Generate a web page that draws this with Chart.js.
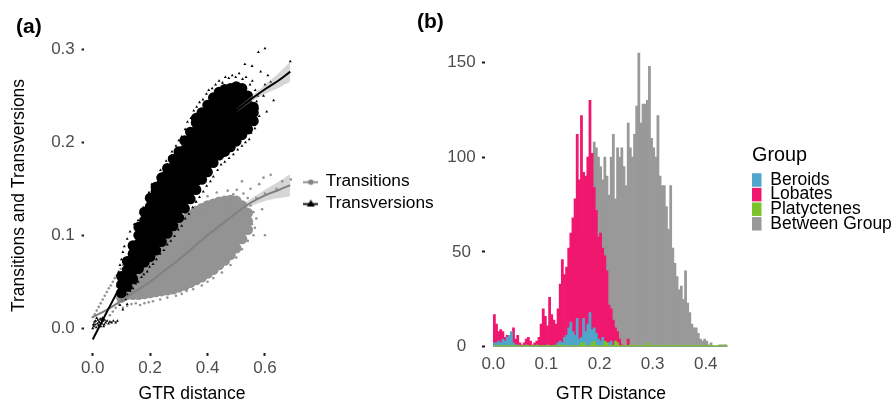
<!DOCTYPE html>
<html><head><meta charset="utf-8">
<script src="https://cdn.jsdelivr.net/npm/chart.js@4.4.1/dist/chart.umd.min.js"></script>
<style>
html,body{margin:0;padding:0;background:#fff;}
#wrap{position:relative;width:896px;height:406px;overflow:hidden;background:#fff;}
#ca{position:absolute;left:0;top:0;width:440px;height:406px;}
#cb{position:absolute;left:410px;top:0;width:486px;height:406px;}
</style></head><body>
<div id="wrap"><canvas id="ca" width="440" height="406"></canvas><canvas id="cb" width="486" height="406"></canvas></div>
<script>
// ---------- panel labels, series names, ticks ----------
const panelLabels = ['(a)', '(b)'];
const seriesA = ['Transitions', 'Transversions'];
const groupsB = ['Beroids', 'Lobates', 'Platyctenes', 'Between Group'];
const xTicksA = [0, 0.2, 0.4, 0.6];
const yTicksA = [0, 0.1, 0.2, 0.3];
const xTicksB = [0, 0.1, 0.2, 0.3, 0.4];
const yTicksB = [0, 50, 100, 150];

// ---------- panel (a): dense core of the clouds, by GTR column [x, [y...]] ----------
const transversionsDense = [
 [0.10,[0.038,0.047,0.056]],
 [0.12,[0.045,0.054,0.063,0.072]],
 [0.14,[0.053,0.062,0.071,0.080,0.089]],
 [0.16,[0.064,0.073,0.082,0.091,0.100,0.109]],
 [0.18,[0.071,0.080,0.089,0.098,0.107,0.116,0.125]],
 [0.20,[0.077,0.086,0.095,0.104,0.113,0.122,0.131,0.140]],
 [0.22,[0.084,0.093,0.102,0.111,0.120,0.129,0.138,0.147,0.152]],
 [0.24,[0.093,0.102,0.111,0.120,0.129,0.138,0.147,0.156,0.162]],
 [0.26,[0.102,0.111,0.120,0.129,0.138,0.147,0.156,0.165,0.172]],
 [0.28,[0.110,0.119,0.128,0.137,0.146,0.155,0.164,0.173,0.182]],
 [0.30,[0.119,0.128,0.137,0.146,0.155,0.164,0.173,0.182,0.190]],
 [0.32,[0.129,0.138,0.147,0.156,0.165,0.174,0.183,0.192,0.202]],
 [0.34,[0.139,0.148,0.157,0.166,0.175,0.184,0.193,0.202,0.211]],
 [0.36,[0.149,0.158,0.167,0.176,0.185,0.194,0.203,0.212,0.221,0.226]],
 [0.38,[0.160,0.169,0.178,0.187,0.196,0.205,0.214,0.223,0.232]],
 [0.40,[0.168,0.177,0.186,0.195,0.204,0.213,0.222,0.231,0.240]],
 [0.42,[0.178,0.187,0.196,0.205,0.214,0.223,0.232,0.241,0.248]],
 [0.44,[0.186,0.195,0.204,0.213,0.222,0.231,0.240,0.249,0.254]],
 [0.46,[0.190,0.199,0.208,0.217,0.226,0.235,0.244,0.253,0.257]],
 [0.48,[0.195,0.204,0.213,0.222,0.231,0.240,0.249,0.258]],
 [0.50,[0.201,0.210,0.219,0.228,0.237,0.246,0.255,0.260]],
 [0.52,[0.208,0.217,0.226,0.235,0.244,0.253,0.258]],
 [0.54,[0.214,0.223,0.232,0.241,0.250]],
 [0.56,[0.223,0.232,0.238]]
];
const transitionsDense = [
 [0.10,[0.033,0.038]],
 [0.12,[0.036,0.044]],
 [0.14,[0.036,0.045,0.052]],
 [0.16,[0.036,0.045,0.054,0.060]],
 [0.18,[0.037,0.046,0.055,0.064,0.069]],
 [0.20,[0.038,0.047,0.056,0.065,0.074,0.077]],
 [0.22,[0.039,0.048,0.057,0.066,0.075,0.084]],
 [0.24,[0.040,0.049,0.058,0.067,0.076,0.085,0.091]],
 [0.26,[0.041,0.050,0.059,0.068,0.077,0.086,0.095,0.098]],
 [0.28,[0.042,0.051,0.060,0.069,0.078,0.087,0.096,0.104]],
 [0.30,[0.044,0.053,0.062,0.071,0.080,0.089,0.098,0.107,0.111]],
 [0.32,[0.046,0.055,0.064,0.073,0.082,0.091,0.100,0.109,0.117]],
 [0.34,[0.049,0.058,0.067,0.076,0.085,0.094,0.103,0.112,0.121,0.122]],
 [0.36,[0.052,0.061,0.070,0.079,0.088,0.097,0.106,0.115,0.124,0.126]],
 [0.38,[0.055,0.064,0.073,0.082,0.091,0.100,0.109,0.118,0.127,0.129]],
 [0.40,[0.059,0.068,0.077,0.086,0.095,0.104,0.113,0.122,0.131,0.132]],
 [0.42,[0.063,0.072,0.081,0.090,0.099,0.108,0.117,0.126,0.134]],
 [0.44,[0.068,0.077,0.086,0.095,0.104,0.113,0.122,0.131,0.136]],
 [0.46,[0.073,0.082,0.091,0.100,0.109,0.118,0.127,0.137]],
 [0.48,[0.079,0.088,0.097,0.106,0.115,0.124,0.133,0.138]],
 [0.50,[0.086,0.095,0.104,0.113,0.122,0.131,0.137]],
 [0.52,[0.096,0.105,0.114,0.123,0.132]],
 [0.54,[0.106,0.115,0.124]]
];
// ---------- panel (a): scattered points around the clouds [x, y] ----------
const transversionsSparse = [
 [0.158,0.116],[0.166,0.124],[0.176,0.13],[0.186,0.14],[0.196,0.146],[0.206,0.155],[0.214,0.152],[0.226,0.163],
 [0.236,0.17],[0.246,0.168],[0.256,0.18],[0.266,0.184],[0.276,0.19],[0.29,0.196],[0.3,0.202],[0.31,0.206],
 [0.322,0.214],[0.33,0.222],[0.342,0.226],[0.352,0.234],[0.362,0.238],[0.372,0.243],[0.384,0.246],[0.396,0.252],
 [0.404,0.256],[0.416,0.258],[0.428,0.262],[0.44,0.266],[0.452,0.264],[0.462,0.27],[0.474,0.269],[0.486,0.272],
 [0.498,0.27],[0.51,0.274],[0.522,0.268],[0.534,0.27],[0.548,0.262],[0.556,0.266],[0.566,0.256],[0.575,0.25],
 [0.577,0.297],[0.6,0.301],[0.688,0.287],[0.53,0.284],[0.555,0.282],[0.585,0.276],[0.61,0.272],[0.6,0.262],[0.62,0.265],
 [0.571,0.244],[0.606,0.233],[0.58,0.228],[0.565,0.215],[0.595,0.25],[0.63,0.245],[0.575,0.236],[0.568,0.225],
 [0.552,0.21],[0.545,0.203],[0.532,0.2],[0.52,0.196],[0.505,0.192],[0.49,0.187],[0.475,0.183],[0.46,0.179],
 [0.447,0.176],[0.435,0.17],[0.42,0.163],[0.41,0.158],[0.397,0.153],[0.385,0.147],[0.372,0.141],[0.36,0.136],
 [0.348,0.13],[0.335,0.123],[0.322,0.118],[0.31,0.11],[0.298,0.106],[0.285,0.099],[0.272,0.094],[0.26,0.09],
 [0.248,0.084],[0.235,0.08],[0.222,0.074],[0.21,0.069],[0.198,0.066],[0.19,0.061],[0.178,0.058],[0.17,0.055],
 [0.158,0.05],[0.15,0.048],[0.14,0.043],[0.13,0.04],[0.122,0.036],[0.115,0.031],
 [0.09,0.06],[0.095,0.068],[0.1,0.074],[0.105,0.082],[0.11,0.088],[0.12,0.096],[0.13,0.104],[0.145,0.112],
 [0.092,0.052],[0.088,0.047],
 [0.095,0.025],[0.1,0.03],[0.105,0.02],[0.11,0.036],[0.12,0.026],[0.125,0.045],[0.09,0.035],[0.085,0.045],[0.1,0.045],
 [0.0,0.0],[0.004,0.002],[0.008,0.004],[0.012,0.001],[0.016,0.005],[0.02,0.003],[0.024,0.006],[0.028,0.002],
 [0.032,0.005],[0.036,0.008],[0.04,0.004],[0.045,0.006],[0.05,0.008],[0.055,0.005],[0.06,0.007],[0.066,0.006],
 [0.072,0.008],[0.01,0.008],[0.018,0.009],[0.026,0.01],[0.034,0.011],[0.042,0.009],[0.014,0.011],[0.006,0.007],
 [0.002,0.004],[0.022,0.007],[0.03,0.009],[0.038,0.002],[0.08,0.006],[0.086,0.008]
];
const transitionsSparse = [
 [0.09,0.026],[0.105,0.022],[0.12,0.024],[0.135,0.026],[0.15,0.027],[0.165,0.025],[0.18,0.027],[0.195,0.028],
 [0.21,0.029],[0.235,0.031],[0.26,0.033],[0.29,0.035],[0.31,0.037],[0.327,0.04],[0.35,0.042],[0.38,0.046],
 [0.4,0.05],[0.42,0.054],[0.45,0.06],[0.48,0.068],[0.5,0.076],[0.52,0.085],[0.54,0.094],[0.56,0.1],
 [0.6,0.1],[0.525,0.145],[0.54,0.14],[0.55,0.132],[0.56,0.125],[0.555,0.112],
 [0.3,0.122],[0.327,0.13],[0.36,0.136],[0.4,0.142],[0.432,0.146],[0.47,0.148],[0.502,0.149],
 [0.49,0.144],[0.52,0.158],[0.55,0.15],[0.57,0.14],
 [0.57,0.118],[0.59,0.128],[0.595,0.162],[0.62,0.165],[0.6,0.145],[0.58,0.155],[0.64,0.15],[0.66,0.158],
 [0.69,0.16],[0.565,0.108],
 [0.0,0.012],[0.007,0.015],[0.014,0.019],[0.021,0.023],[0.028,0.027],[0.035,0.031],[0.042,0.035],[0.049,0.039],
 [0.056,0.043],[0.063,0.046],[0.07,0.05],[0.077,0.054],[0.084,0.057],[0.091,0.061],[0.098,0.064],[0.105,0.068],
 [0.06,0.014],[0.07,0.018],[0.08,0.022],[0.095,0.032]
];
// ---------- panel (a): smooth fits and their confidence bands ----------
const transversionsFit = [[0,-0.012],[0.05,0.018],[0.1,0.048],[0.15,0.082],[0.2,0.113],[0.25,0.14],[0.3,0.163],
 [0.35,0.185],[0.4,0.204],[0.45,0.22],[0.5,0.234],[0.55,0.246],[0.6,0.257],[0.65,0.267],[0.688,0.276]];
const transitionsFit = [[0,0.012],[0.05,0.02],[0.1,0.03],[0.15,0.04],[0.2,0.05],[0.25,0.062],[0.3,0.074],
 [0.35,0.087],[0.4,0.1],[0.45,0.112],[0.5,0.124],[0.55,0.135],[0.6,0.143],[0.65,0.149],[0.688,0.154]];
const transversionsBandHi = [[0.5,0.236],[0.55,0.249],[0.6,0.262],[0.65,0.275],[0.688,0.287]];
const transversionsBandLo = [[0.5,0.232],[0.55,0.243],[0.6,0.252],[0.65,0.259],[0.688,0.265]];
const transitionsBandHi = [[0.5,0.126],[0.55,0.139],[0.6,0.149],[0.65,0.158],[0.688,0.166]];
const transitionsBandLo = [[0.5,0.122],[0.55,0.131],[0.6,0.137],[0.65,0.14],[0.688,0.142]];

// ---------- panel (b): histogram counts, bins of 0.004 starting at 0 ----------
const binStart = 0;
const binWidth = 0.004;
const beroidsCounts = [
 2,2,3,2,4,3,5,6,8,2,
 1,1,0,0,0,1,0,0,0,0,
 1,0,0,0,0,1,0,0,0,1,
 2,3,2,5,6,10,13,8,6,15,
 4,5,15,8,12,18,9,10,7,4,
 3,5,2,2,2,3,0,0,0,0,
 0,0,0,0,0,0,0,0,0,0,
 0,0,0,0,0,0,0,0,0,0,
 0,0,0,0,0,0,0,0,0,0,
 0,0,0,0,0,0,0,0,0,0,
 0,0,0,0,0,0,0,0,0,0];
const lobatesCounts = [
 17,12,8,9,8,5,6,6,4,10,
 4,6,2,1,2,4,5,3,1,2,
 3,5,12,20,16,11,26,17,14,12,
 20,33,46,38,42,52,60,68,78,112,
 88,122,92,90,100,130,102,84,72,58,
 60,52,48,40,22,20,14,10,8,4,
 1,0,0,4,0,0,0,0,0,0,
 0,0,0,0,0,0,0,0,0,0,
 0,0,0,0,0,0,0,0,0,0,
 0,0,0,0,0,0,0,0,0,0,
 0,0,0,0,0,0,0,0,0,0];
const platyctenesCounts = [
 0,0,0,0,0,0,0,0,0,0,
 0,0,0,0,0,0,0,0,0,0,
 0,0,0,0,0,0,0,0,0,0,
 0,1,0,0,0,0,0,0,0,0,
 0,2,2,0,0,0,2,3,0,0,
 0,0,3,2,0,0,0,3,2,0,
 0,0,0,0,1,0,0,0,0,0,
 0,0,2,0,0,0,0,0,0,0,
 0,0,0,0,0,0,0,0,0,0,
 0,0,0,0,0,0,0,0,0,0,
 0,0,0,0,0,0,0,0,0,0];
const betweenGroupCounts = [
 0,0,0,0,0,0,0,0,0,0,
 0,0,0,0,0,0,0,0,0,0,
 0,0,0,0,0,0,0,0,0,0,
 0,0,0,0,0,0,0,0,8,15,
 25,40,60,80,88,85,90,108,105,100,
 95,88,100,90,80,100,112,78,105,100,
 105,95,85,118,105,100,112,127,155,118,
 128,128,130,148,110,105,100,122,90,85,
 85,74,62,85,52,44,37,30,32,25,
 40,23,18,12,10,10,7,4,3,4,
 3,1,2,0,0,0,1,1,1,1];

// ---------- helpers ----------
const F = '"Liberation Sans", Arial, Helvetica, sans-serif';
const toXY = arr => arr.map(p => ({x: p[0], y: p[1]}));
const fromColumns = cols => cols.flatMap(c => c[1].map(y => ({x: c[0], y: y})));
const hist = counts => counts.map((c, i) => ({x: binStart + binWidth * (i + 0.5), y: c}));

function legendSymbol(color, shape) {
  const c = document.createElement('canvas');
  c.width = 15; c.height = 10;
  const g = c.getContext('2d');
  g.strokeStyle = color; g.lineWidth = 1.8;
  g.beginPath(); g.moveTo(0, 5.5); g.lineTo(15, 5.5); g.stroke();
  g.fillStyle = color;
  g.beginPath();
  if (shape === 'circle') { g.arc(7.5, 5.5, 2.7, 0, Math.PI * 2); }
  else { g.moveTo(7.5, 1); g.lineTo(11.5, 8); g.lineTo(3.5, 8); g.closePath(); }
  g.fill();
  return c;
}
const GRAY_PT = '#939393';
const symTi = legendSymbol('#858585', 'circle');
const symTv = legendSymbol('#000000', 'triangle');

Chart.defaults.font.family = F;

// ---------- panel (a) ----------
new Chart(document.getElementById('ca'), {
  type: 'line',
  data: {
    datasets: [
      {label: seriesA[1] + ' fit', data: toXY(transversionsFit), borderColor: '#000', borderWidth: 2,
       pointRadius: 0, fill: false, cubicInterpolationMode: 'monotone', order: 0},
      {label: seriesA[0] + ' fit', data: toXY(transitionsFit), borderColor: '#808080', borderWidth: 2,
       pointRadius: 0, fill: false, cubicInterpolationMode: 'monotone', order: 1},
      {label: 'tv band hi', data: toXY(transversionsBandHi), borderWidth: 0, borderColor: 'rgba(0,0,0,0)',
       backgroundColor: 'rgba(153,153,153,0.4)', pointRadius: 0, fill: 3, cubicInterpolationMode: 'monotone', order: 2},
      {label: 'tv band lo', data: toXY(transversionsBandLo), borderWidth: 0, borderColor: 'rgba(0,0,0,0)',
       pointRadius: 0, fill: false, cubicInterpolationMode: 'monotone', order: 2},
      {label: 'ti band hi', data: toXY(transitionsBandHi), borderWidth: 0, borderColor: 'rgba(0,0,0,0)',
       backgroundColor: 'rgba(153,153,153,0.4)', pointRadius: 0, fill: 5, cubicInterpolationMode: 'monotone', order: 3},
      {label: 'ti band lo', data: toXY(transitionsBandLo), borderWidth: 0, borderColor: 'rgba(0,0,0,0)',
       pointRadius: 0, fill: false, cubicInterpolationMode: 'monotone', order: 3},
      {label: seriesA[1], data: toXY(transversionsSparse), showLine: false, pointStyle: 'triangle',
       pointRadius: 1.7, pointBackgroundColor: '#000', pointBorderWidth: 0, order: 4},
      {label: seriesA[1], data: fromColumns(transversionsDense), showLine: false, pointStyle: 'circle',
       pointRadius: 5.3, pointBackgroundColor: '#000', pointBorderWidth: 0, order: 4},
      {label: seriesA[0], data: toXY(transitionsSparse), showLine: false, pointStyle: 'circle',
       pointRadius: 1.3, pointBackgroundColor: GRAY_PT, pointBorderWidth: 0, order: 5},
      {label: seriesA[0], data: fromColumns(transitionsDense), showLine: false, pointStyle: 'circle',
       pointRadius: 5.3, pointBackgroundColor: GRAY_PT, pointBorderWidth: 0, order: 5}
    ]
  },
  options: {
    responsive: false, animation: false, devicePixelRatio: 1, events: [],
    layout: {padding: {left: 16, right: 0, top: 0, bottom: 0}},
    plugins: {
      title: {display: true, text: panelLabels[0], align: 'start', color: '#000',
        font: {family: F, size: 21, weight: 'bold', lineHeight: 1}, padding: {top: 16.5, bottom: 0}},
      legend: {position: 'right', align: 'start', maxWidth: 140,
        title: {display: true, text: '', font: {family: F, size: 10, lineHeight: 1}, padding: {top: 158.4, bottom: 0}},
        labels: {usePointStyle: true, pointStyleWidth: 12.5, padding: 4.6, color: '#000',
          font: {family: F, size: 17.3},
          generateLabels: () => [
            {text: seriesA[0], pointStyle: symTi, fillStyle: '#858585', strokeStyle: '#858585', lineWidth: 0, hidden: false, datasetIndex: 9, fontColor: '#000'},
            {text: seriesA[1], pointStyle: symTv, fillStyle: '#000', strokeStyle: '#000', lineWidth: 0, hidden: false, datasetIndex: 7, fontColor: '#000'}
          ]}},
      tooltip: {enabled: false}
    },
    scales: {
      x: {type: 'linear', min: -0.03, max: 0.722,
        afterBuildTicks: s => { s.ticks = xTicksA.map(v => ({value: v})); },
        afterFit: s => { s.height = 52.6; },
        grid: {drawOnChartArea: false, drawTicks: true, tickLength: 2.5, tickWidth: 2, tickColor: '#1a1a1a', color: '#1a1a1a'},
        border: {display: false},
        ticks: {padding: 1.9, color: '#4D4D4D', font: {family: F, size: 17}, maxRotation: 0, autoSkip: false,
          callback: v => Number(v).toFixed(1)},
        title: {display: true, text: 'GTR distance', color: '#000', font: {family: F, size: 17.5}, padding: {top: 0, bottom: 1}}},
      y: {type: 'linear', min: -0.027, max: 0.3127,
        afterBuildTicks: s => { s.ticks = yTicksA.map(v => ({value: v})); },
        afterFit: s => { s.width = 68.1; },
        grid: {drawOnChartArea: false, drawTicks: true, tickLength: 2.5, tickWidth: 2, tickColor: '#1a1a1a', color: '#1a1a1a'},
        border: {display: false},
        ticks: {padding: 6.8, crossAlign: 'center', color: '#4D4D4D', font: {family: F, size: 17}, autoSkip: false,
          callback: v => Number(v).toFixed(1)},
        title: {display: true, text: 'Transitions and Transversions', color: '#000', font: {family: F, size: 17.5}, padding: {top: -7.5, bottom: 0}}}
    }
  }
});

// ---------- panel (b) ----------
const barCommon = {grouped: false, barPercentage: 1, categoryPercentage: 1, borderWidth: 0};
new Chart(document.getElementById('cb'), {
  type: 'bar',
  data: {
    datasets: [
      Object.assign({label: groupsB[0], data: hist(beroidsCounts), backgroundColor: '#4FA5CA', order: 1}, barCommon),
      Object.assign({label: groupsB[1], data: hist(lobatesCounts), backgroundColor: '#F0176E', order: 2}, barCommon),
      Object.assign({label: groupsB[2], data: hist(platyctenesCounts), backgroundColor: '#7BC32A', order: 0, minBarLength: 1}, barCommon),
      Object.assign({label: groupsB[3], data: hist(betweenGroupCounts), backgroundColor: '#999999', order: 3}, barCommon)
    ]
  },
  options: {
    responsive: false, animation: false, devicePixelRatio: 1, events: [],
    layout: {padding: {left: 7, right: 0, top: 0, bottom: 0}},
    plugins: {
      title: {display: true, text: panelLabels[1], align: 'start', color: '#000',
        font: {family: F, size: 21, weight: 'bold', lineHeight: 1}, padding: {top: 12, bottom: 6.7}},
      legend: {position: 'right', align: 'start', maxWidth: 144,
        title: {display: true, text: 'Group', position: 'start', color: '#000',
          font: {family: F, size: 19.8}, padding: {top: 145.6, bottom: 1.9}},
        labels: {boxWidth: 9.5, boxHeight: 13.5, padding: 0, color: '#000',
          font: {family: F, size: 17.5, lineHeight: '14.6px'},
          generateLabels: chart => chart.data.datasets.map((ds, i) => ({
            text: [ds.label], fillStyle: ds.backgroundColor, strokeStyle: ds.backgroundColor,
            lineWidth: 0, hidden: false, datasetIndex: i, fontColor: '#000'}))}},
      tooltip: {enabled: false}
    },
    scales: {
      x: {type: 'linear', min: -0.0166, max: 0.46, offset: false,
        afterBuildTicks: s => { s.ticks = xTicksB.map(v => ({value: v})); },
        afterFit: s => { s.height = 59.3; },
        grid: {display: false, drawTicks: false, offset: false},
        border: {display: false},
        ticks: {padding: 7.1, color: '#4D4D4D', font: {family: F, size: 17}, maxRotation: 0, autoSkip: false,
          callback: v => Number(v).toFixed(1)},
        title: {display: true, text: 'GTR Distance', color: '#000', font: {family: F, size: 17.5}, padding: {top: 0, bottom: 1}}},
      y: {type: 'linear', min: 0, max: 162,
        afterBuildTicks: s => { s.ticks = yTicksB.map(v => ({value: v})); },
        afterFit: s => { s.width = 67.5; },
        grid: {drawOnChartArea: false, drawTicks: true, tickLength: 2.5, tickWidth: 2, tickColor: '#1a1a1a', color: '#1a1a1a'},
        border: {display: false},
        ticks: {padding: 6.3, crossAlign: 'center', color: '#4D4D4D', font: {family: F, size: 17}, autoSkip: false,
          callback: v => String(v)}},
      y2: {type: 'linear', position: 'right', display: true, min: 0, max: 1,
        grid: {display: false, drawTicks: false}, ticks: {display: false}, border: {display: false},
        afterFit: s => { s.width = 14.4; }}
    }
  }
});
</script></body></html>
